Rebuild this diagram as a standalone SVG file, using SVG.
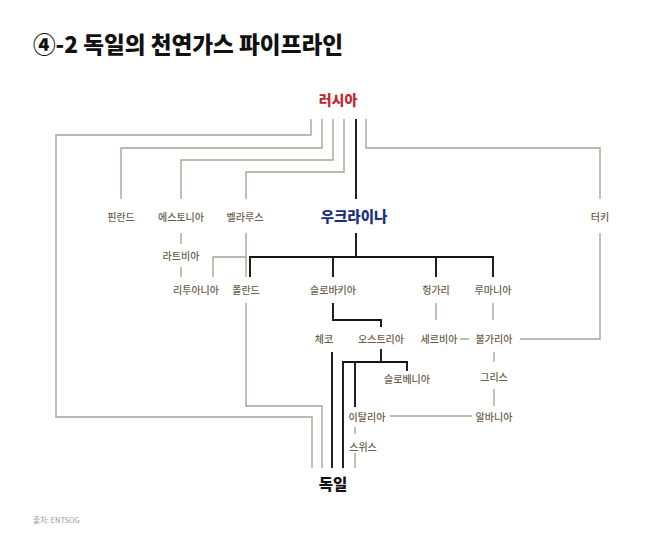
<svg xmlns="http://www.w3.org/2000/svg" width="658" height="551" viewBox="0 0 658 551">
<style>
.lbl{font-family:"Noto Sans CJK KR","Noto Sans",sans-serif;font-size:10px;font-weight:500;fill:#6c5e4c;text-anchor:middle}
.big{font-family:"Noto Sans CJK KR","Noto Sans",sans-serif;font-weight:900;text-anchor:middle}
.g{fill:none;stroke:#a9a395;stroke-width:1.4}
.k{fill:none;stroke:#151515;stroke-width:1.9}
</style>
<rect width="658" height="551" fill="#ffffff"/>
<text x="33" y="53" font-family="'Noto Sans CJK KR','Noto Sans',sans-serif" font-weight="900" font-size="22.5" fill="#111" textLength="310" lengthAdjust="spacingAndGlyphs">④-2 독일의 천연가스 파이프라인</text>
<text x="33" y="523" font-family="'Noto Sans CJK KR','Noto Sans',sans-serif" font-size="7.5" fill="#9a9a9a">출처: ENTSOG</text>
<g id="connectors">
<path class="g" d="M311,119 V135 H56 V417 H312 V468"/>
<path class="g" d="M322,119 V148 H121 V199"/>
<path class="g" d="M333,119 V160 H181 V199"/>
<path class="g" d="M344,119 V172 H246 V199"/>
<path class="g" d="M366,119 V148 H600 V199"/>
<path class="g" d="M181,233 V244 M181,267 V277"/>
<path class="g" d="M246,233 V277 M246,257 H213 V277"/>
<path class="g" d="M246,303 V406 H322 V468"/>
<path class="g" d="M436,303 V320 M493,303 V320"/>
<path class="g" d="M460,339 H469"/>
<path class="g" d="M520,339 H600 V233"/>
<path class="g" d="M494,352 V362 M494,389 V406"/>
<path class="g" d="M390,416 H472"/>
<path class="g" d="M355,427 V434 M355,453 V468"/>
<path class="k" d="M356,119 V199"/>
<path class="k" d="M356,233 V257"/>
<path class="k" d="M250,277 V257 H493 V277 M333,257 V277 M436,257 V277"/>
<path class="k" d="M333,303 V320 H381 V327"/>
<path class="k" d="M332,352 V468"/>
<path class="k" d="M381,349 V362 M343,468 V362 H407 V371 M355,362 V407"/>
</g>
<g id="russia"><text class="big" x="338" y="105" font-size="14" fill="#c4262e">러시아</text></g>
<g id="ukraine"><text class="big" x="354" y="222" font-size="14.5" fill="#1d2f7c">우크라이나</text></g>
<g id="germany"><text class="big" x="333" y="490" font-size="15.5" fill="#111">독일</text></g>
<g id="finland"><text class="lbl" x="121" y="221">핀란드</text></g>
<g id="estonia"><text class="lbl" x="181" y="221">에스토니아</text></g>
<g id="belarus"><text class="lbl" x="245" y="221">벨라루스</text></g>
<g id="turkey"><text class="lbl" x="600" y="221">터키</text></g>
<g id="latvia"><text class="lbl" x="181" y="260">라트비아</text></g>
<g id="lithuania"><text class="lbl" x="196" y="294">리투아니아</text></g>
<g id="poland"><text class="lbl" x="246" y="294">폴란드</text></g>
<g id="slovakia"><text class="lbl" x="333" y="294">슬로바키아</text></g>
<g id="hungary"><text class="lbl" x="436" y="294">헝가리</text></g>
<g id="romania"><text class="lbl" x="493" y="294">루마니아</text></g>
<g id="czech"><text class="lbl" x="324" y="343">체코</text></g>
<g id="austria"><text class="lbl" x="381" y="343">오스트리아</text></g>
<g id="serbia"><text class="lbl" x="439" y="343">세르비아</text></g>
<g id="bulgaria"><text class="lbl" x="494" y="343">불가리아</text></g>
<g id="slovenia"><text class="lbl" x="407" y="383">슬로베니아</text></g>
<g id="greece"><text class="lbl" x="494" y="381">그리스</text></g>
<g id="italy"><text class="lbl" x="367" y="421">이탈리아</text></g>
<g id="albania"><text class="lbl" x="494" y="421">알바니아</text></g>
<g id="switzerland"><text class="lbl" x="363" y="451">스위스</text></g>
</svg>
